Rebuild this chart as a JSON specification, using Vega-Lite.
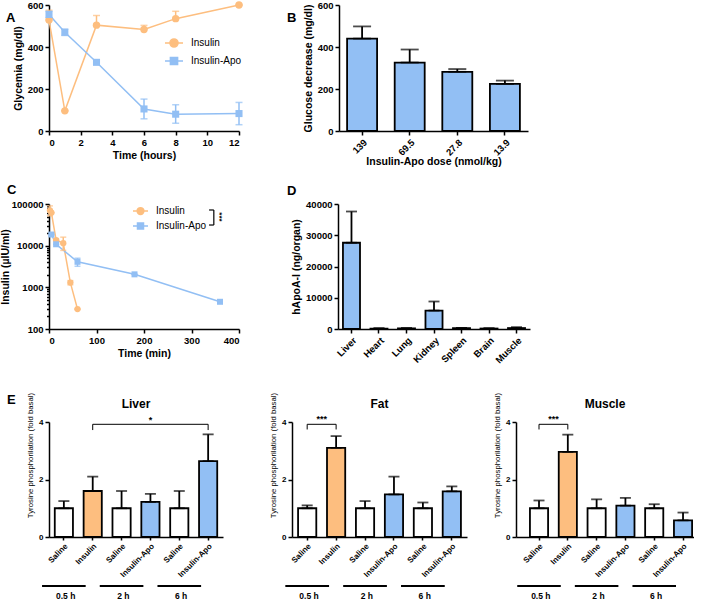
{
 "$schema": "https://vega.github.io/schema/vega-lite/v6.json",
 "padding": {"left": 0, "top": 0, "right": 0, "bottom": 0},
 "background": "white",
 "config": {
  "font": "Liberation Sans",
  "view": {"stroke": null},
  "axis": {"grid": false, "domainColor": "#000", "domainWidth": 1.5, "tickColor": "#000", "tickWidth": 1.5, "tickSize": 4, "labelColor": "#000", "labelFontWeight": "bold", "labelFontSize": 9.5, "labelPadding": 2, "titleColor": "#000", "titleFontWeight": "bold", "titleFontSize": 10.5, "titlePadding": 4},
  "legend": {"labelColor": "#000", "labelFontWeight": "normal", "labelFontSize": 10},
  "title": {"color": "#000", "fontWeight": "bold", "fontSize": 13}
 },
 "datasets": {
  "glyc": [
   {"series": "Insulin", "t": 0, "v": 528, "lo": 528, "hi": 575},
   {"series": "Insulin", "t": 1, "v": 96, "lo": 96, "hi": 96},
   {"series": "Insulin", "t": 3, "v": 504, "lo": 504, "hi": 550},
   {"series": "Insulin", "t": 6, "v": 483, "lo": 483, "hi": 503},
   {"series": "Insulin", "t": 8, "v": 535, "lo": 535, "hi": 570},
   {"series": "Insulin", "t": 12, "v": 600, "lo": 600, "hi": 600},
   {"series": "Insulin-Apo", "t": 0, "v": 555, "lo": 540, "hi": 570},
   {"series": "Insulin-Apo", "t": 1, "v": 470, "lo": 455, "hi": 485},
   {"series": "Insulin-Apo", "t": 3, "v": 327, "lo": 318, "hi": 336},
   {"series": "Insulin-Apo", "t": 6, "v": 105, "lo": 58, "hi": 152},
   {"series": "Insulin-Apo", "t": 8, "v": 80, "lo": 37, "hi": 125},
   {"series": "Insulin-Apo", "t": 12, "v": 83, "lo": 30, "hi": 136}
  ],
  "dose": [
   {"dose": "139", "v": 440, "hi": 498},
   {"dose": "69.5", "v": 326, "hi": 388},
   {"dose": "27.8", "v": 282, "hi": 295},
   {"dose": "13.9", "v": 224, "hi": 240}
  ],
  "ins": [
   {"series": "Insulin", "t": 2, "v": 70000, "lo": 52000, "hi": 90000},
   {"series": "Insulin", "t": 5, "v": 62000, "lo": 62000, "hi": 62000},
   {"series": "Insulin", "t": 15, "v": 13500, "lo": 13500, "hi": 14500},
   {"series": "Insulin", "t": 30, "v": 11500, "lo": 7700, "hi": 16000},
   {"series": "Insulin", "t": 45, "v": 1300, "lo": 1150, "hi": 1450},
   {"series": "Insulin", "t": 60, "v": 300, "lo": 300, "hi": 300},
   {"series": "Insulin-Apo", "t": 5, "v": 18500, "lo": 18500, "hi": 18500},
   {"series": "Insulin-Apo", "t": 15, "v": 10800, "lo": 10800, "hi": 10800},
   {"series": "Insulin-Apo", "t": 60, "v": 4100, "lo": 3200, "hi": 5000},
   {"series": "Insulin-Apo", "t": 180, "v": 2050, "lo": 2050, "hi": 2050},
   {"series": "Insulin-Apo", "t": 360, "v": 450, "lo": 450, "hi": 450}
  ],
  "insSig": [
   {"from": 337, "to": 347, "lo": 31300, "hi": 71800, "mid": 48700, "textAt": 357, "s": "***"}
  ],
  "organ": [
   {"organ": "Liver", "v": 27600, "hi": 37600},
   {"organ": "Heart", "v": 150, "hi": 250},
   {"organ": "Lung", "v": 200, "hi": 300},
   {"organ": "Kidney", "v": 5900, "hi": 8800},
   {"organ": "Spleen", "v": 250, "hi": 350},
   {"organ": "Brain", "v": 150, "hi": 250},
   {"organ": "Muscle", "v": 300, "hi": 600}
  ],
  "E": [
   {"tissue": "Liver", "cat": "0.5 h|Saline", "treat": "Saline", "v": 1.0, "hi": 1.25},
   {"tissue": "Liver", "cat": "0.5 h|Insulin", "treat": "Insulin", "v": 1.6, "hi": 2.1},
   {"tissue": "Liver", "cat": "2 h|Saline", "treat": "Saline", "v": 1.0, "hi": 1.6},
   {"tissue": "Liver", "cat": "2 h|Insulin-Apo", "treat": "Insulin-Apo", "v": 1.22, "hi": 1.5},
   {"tissue": "Liver", "cat": "6 h|Saline", "treat": "Saline", "v": 1.0, "hi": 1.6},
   {"tissue": "Liver", "cat": "6 h|Insulin-Apo", "treat": "Insulin-Apo", "v": 2.64, "hi": 3.57},
   {"tissue": "Fat", "cat": "0.5 h|Saline", "treat": "Saline", "v": 1.0, "hi": 1.1},
   {"tissue": "Fat", "cat": "0.5 h|Insulin", "treat": "Insulin", "v": 3.1, "hi": 3.51},
   {"tissue": "Fat", "cat": "2 h|Saline", "treat": "Saline", "v": 1.0, "hi": 1.25},
   {"tissue": "Fat", "cat": "2 h|Insulin-Apo", "treat": "Insulin-Apo", "v": 1.48, "hi": 2.1},
   {"tissue": "Fat", "cat": "6 h|Saline", "treat": "Saline", "v": 1.0, "hi": 1.2},
   {"tissue": "Fat", "cat": "6 h|Insulin-Apo", "treat": "Insulin-Apo", "v": 1.59, "hi": 1.76},
   {"tissue": "Muscle", "cat": "0.5 h|Saline", "treat": "Saline", "v": 1.0, "hi": 1.27},
   {"tissue": "Muscle", "cat": "0.5 h|Insulin", "treat": "Insulin", "v": 2.96, "hi": 3.56},
   {"tissue": "Muscle", "cat": "2 h|Saline", "treat": "Saline", "v": 1.0, "hi": 1.31},
   {"tissue": "Muscle", "cat": "2 h|Insulin-Apo", "treat": "Insulin-Apo", "v": 1.09, "hi": 1.36},
   {"tissue": "Muscle", "cat": "6 h|Saline", "treat": "Saline", "v": 1.0, "hi": 1.14},
   {"tissue": "Muscle", "cat": "6 h|Insulin-Apo", "treat": "Insulin-Apo", "v": 0.58, "hi": 0.85}
  ],
  "Egroups": [
   {"group": "0.5 h", "start": "0.5 h|Saline"},
   {"group": "2 h", "start": "2 h|Saline"},
   {"group": "6 h", "start": "6 h|Saline"}
  ]
 },
 "spacing": 27,
 "resolve": {"scale": {"color": "independent", "fill": "independent"}, "legend": {"color": "independent", "fill": "independent"}},
 "vconcat": [
  {"spacing": 16,
   "resolve": {"scale": {"color": "independent"}, "legend": {"color": "independent"}},
   "vconcat": [
   {"bounds": "flush", "spacing": 100, "hconcat": [
    {
     "width": 190, "height": 126,
     "title": {"text": "A", "anchor": "start", "frame": "group", "dx": -43, "offset": -19, "dy": 16, "baseline": "alphabetic"},
     "data": {"name": "glyc"},
     "encoding": {
      "x": {"field": "t", "type": "quantitative", "scale": {"domain": [0, 12], "nice": false}, "axis": {"values": [0, 2, 4, 6, 8, 10, 12], "title": "Time (hours)"}},
      "color": {"field": "series", "type": "nominal", "scale": {"domain": ["Insulin", "Insulin-Apo"], "range": ["#FDBE7F", "#92BFF4"]},
       "legend": {"title": null, "orient": "none", "legendX": 115, "legendY": 28, "symbolSize": 324, "labelOffset": 7, "rowPadding": -3,
        "encode": {"symbols": {"update": {
         "shape": {"signal": "datum.value === 'Insulin' ? 'M-1,0H1M0.45,0A0.45,0.45,0,1,1,-0.45,0A0.45,0.45,0,1,1,0.45,0Z' : 'M-1,0H1M-0.4,-0.4H0.4V0.4H-0.4Z'"},
         "fill": {"signal": "datum.value === 'Insulin' ? '#FDBE7F' : '#92BFF4'"},
         "stroke": {"signal": "datum.value === 'Insulin' ? '#FDBE7F' : '#92BFF4'"},
         "strokeWidth": {"value": 1.5}, "opacity": {"value": 1}}}}}}
     },
     "layer": [
      {"mark": {"type": "line", "strokeWidth": 1.5}, "encoding": {"y": {"field": "v", "type": "quantitative", "scale": {"domain": [0, 600]}, "axis": {"values": [0, 200, 400, 600], "title": "Glycemia (mg/dl)"}}}},
      {"mark": {"type": "errorbar", "thickness": 1.5, "ticks": {"size": 7}}, "encoding": {"y": {"field": "lo", "type": "quantitative", "axis": {"values": [0, 200, 400, 600], "title": "Glycemia (mg/dl)"}}, "y2": {"field": "hi"}}},
      {"transform": [{"filter": "datum.series === 'Insulin'"}], "mark": {"type": "point", "shape": "circle", "filled": true, "opacity": 1, "size": 55}, "encoding": {"y": {"field": "v", "type": "quantitative"}}},
      {"transform": [{"filter": "datum.series === 'Insulin-Apo'"}], "mark": {"type": "point", "shape": "square", "filled": true, "opacity": 1, "size": 50}, "encoding": {"y": {"field": "v", "type": "quantitative"}}}
     ]
    },
    {
     "width": 189, "height": 126,
     "title": {"text": "B", "anchor": "start", "frame": "group", "dx": -52, "offset": -21, "dy": 14, "baseline": "alphabetic"},
     "data": {"name": "dose"},
     "encoding": {"x": {"field": "dose", "type": "nominal", "sort": null, "scale": {"paddingInner": 0.37, "paddingOuter": 0.17}, "axis": {"labelAngle": -45, "titlePadding": 0, "title": "Insulin-Apo dose (nmol/kg)"}}},
     "layer": [
      {"mark": {"type": "bar", "fill": "#92BFF4", "stroke": "#000", "strokeWidth": 1.8}, "encoding": {"y": {"field": "v", "type": "quantitative", "scale": {"domain": [0, 600]}, "axis": {"values": [0, 200, 400, 600], "title": "Glucose decrease (mg/dl)"}}}},
      {"mark": {"type": "errorbar", "thickness": 1.8, "color": "#000", "ticks": {"size": 18}}, "encoding": {"y": {"field": "v", "type": "quantitative", "axis": {"values": [0, 200, 400, 600], "title": "Glucose decrease (mg/dl)"}}, "y2": {"field": "hi"}}}
     ]
    }
   ]},
   {"bounds": "flush", "spacing": 99, "hconcat": [
    {
     "width": 190, "height": 125,
     "title": {"text": "C", "anchor": "start", "frame": "group", "dx": -42, "offset": 5, "dy": 13, "baseline": "alphabetic"},
     "data": {"name": "ins"},
     "encoding": {
      "x": {"field": "t", "type": "quantitative", "scale": {"domain": [0, 400], "nice": false}, "axis": {"values": [0, 100, 200, 300, 400], "title": "Time (min)"}}
     },
     "layer": [
      {"mark": {"type": "line", "strokeWidth": 1.5}, "encoding": {
        "color": {"field": "series", "type": "nominal", "scale": {"domain": ["Insulin", "Insulin-Apo"], "range": ["#FDBE7F", "#92BFF4"]},
         "legend": {"title": null, "orient": "none", "legendX": 83, "legendY": -1.5, "symbolSize": 225, "labelOffset": 7, "rowPadding": 0,
          "encode": {"symbols": {"update": {
           "shape": {"signal": "datum.value === 'Insulin' ? 'M-1,0H1M0.45,0A0.45,0.45,0,1,1,-0.45,0A0.45,0.45,0,1,1,0.45,0Z' : 'M-1,0H1M-0.4,-0.4H0.4V0.4H-0.4Z'"},
           "fill": {"signal": "datum.value === 'Insulin' ? '#FDBE7F' : '#92BFF4'"},
           "stroke": {"signal": "datum.value === 'Insulin' ? '#FDBE7F' : '#92BFF4'"},
           "strokeWidth": {"value": 1.5}, "opacity": {"value": 1}}}}}},
        "y": {"field": "v", "type": "quantitative", "scale": {"type": "log", "domain": [100, 100000]},
        "axis": {"values": [100, 200, 300, 400, 500, 600, 700, 800, 900, 1000, 2000, 3000, 4000, 5000, 6000, 7000, 8000, 9000, 10000, 20000, 30000, 40000, 50000, 60000, 70000, 80000, 90000, 100000],
         "format": "d", "labelOverlap": false, "titlePadding": 1,
         "labelExpr": "indexof([100, 1000, 10000, 100000], datum.value) >= 0 ? datum.label : ''",
         "tickSize": {"condition": {"test": "indexof([100, 1000, 10000, 100000], datum.value) >= 0", "value": 4}, "value": 2.5},
         "title": "Insulin (µIU/ml)"}}}},
      {"mark": {"type": "errorbar", "thickness": 1.5, "ticks": {"size": 6}}, "encoding": {"color": {"field": "series", "type": "nominal"}, "y": {"field": "lo", "type": "quantitative", "axis": {"values": [100, 200, 300, 400, 500, 600, 700, 800, 900, 1000, 2000, 3000, 4000, 5000, 6000, 7000, 8000, 9000, 10000, 20000, 30000, 40000, 50000, 60000, 70000, 80000, 90000, 100000],
         "format": "d", "labelOverlap": false, "titlePadding": 1,
         "labelExpr": "indexof([100, 1000, 10000, 100000], datum.value) >= 0 ? datum.label : ''",
         "tickSize": {"condition": {"test": "indexof([100, 1000, 10000, 100000], datum.value) >= 0", "value": 4}, "value": 2.5},
         "title": "Insulin (µIU/ml)"}}, "y2": {"field": "hi"}}},
      {"transform": [{"filter": "datum.series === 'Insulin'"}], "mark": {"type": "point", "shape": "circle", "filled": true, "opacity": 1, "size": 40, "color": "#FDBE7F"}, "encoding": {"y": {"field": "v", "type": "quantitative"}}},
      {"transform": [{"filter": "datum.series === 'Insulin-Apo'"}], "mark": {"type": "point", "shape": "square", "filled": true, "opacity": 1, "size": 36, "color": "#92BFF4"}, "encoding": {"y": {"field": "v", "type": "quantitative"}}},
      {"data": {"name": "insSig"}, "mark": {"type": "rule", "color": "#000", "strokeWidth": 1.2}, "encoding": {"x": {"field": "to", "type": "quantitative"}, "y": {"field": "lo", "type": "quantitative"}, "y2": {"field": "hi"}}},
      {"data": {"name": "insSig"}, "mark": {"type": "rule", "color": "#000", "strokeWidth": 1.2}, "encoding": {"x": {"field": "from", "type": "quantitative"}, "x2": {"field": "to"}, "y": {"field": "hi", "type": "quantitative"}}},
      {"data": {"name": "insSig"}, "mark": {"type": "rule", "color": "#000", "strokeWidth": 1.2}, "encoding": {"x": {"field": "from", "type": "quantitative"}, "x2": {"field": "to"}, "y": {"field": "lo", "type": "quantitative"}}},
      {"data": {"name": "insSig"}, "mark": {"type": "text", "angle": 90, "fontSize": 8, "fontWeight": "bold", "baseline": "middle", "color": "#000"}, "encoding": {"x": {"field": "textAt", "type": "quantitative"}, "y": {"field": "mid", "type": "quantitative"}, "text": {"field": "s"}}}
     ]
    },
    {
     "width": 192, "height": 125,
     "title": {"text": "D", "anchor": "start", "frame": "group", "dx": -51, "offset": 3, "dy": 12, "baseline": "alphabetic"},
     "data": {"name": "organ"},
     "encoding": {"x": {"field": "organ", "type": "nominal", "sort": null, "scale": {"paddingInner": 0.38, "paddingOuter": 0.18}, "axis": {"labelAngle": -45, "title": null}}},
     "layer": [
      {"mark": {"type": "bar", "fill": "#92BFF4", "stroke": "#000", "strokeWidth": 1.8}, "encoding": {"y": {"field": "v", "type": "quantitative", "scale": {"domain": [0, 40000]}, "axis": {"values": [0, 10000, 20000, 30000, 40000], "format": "d", "title": "hApoA-I (ng/organ)"}}}},
      {"mark": {"type": "errorbar", "thickness": 1.8, "color": "#000", "ticks": {"size": 11}}, "encoding": {"y": {"field": "v", "type": "quantitative", "axis": {"values": [0, 10000, 20000, 30000, 40000], "format": "d", "title": "hApoA-I (ng/organ)"}}, "y2": {"field": "hi"}}}
     ]
    }
   ]}
  ]},
  {"spacing": 46,
   "resolve": {"scale": {"fill": "independent"}, "legend": {"fill": "independent"}},
   "title": {"text": "E", "anchor": "start", "frame": "group", "dx": -42, "offset": 0, "dy": 25, "baseline": "alphabetic"},
   "hconcat": [
    {"bounds": "flush", "spacing": 49, "vconcat": [
     {
      "width": 174, "height": 115,
      "title": {"text": "Liver", "anchor": "middle", "fontSize": 12, "dy": 23},
      "data": {"name": "E"},
      "transform": [{"filter": "datum.tissue === 'Liver'"}],
      "encoding": {"x": {"field": "cat", "type": "nominal", "scale": {"domain": ["0.5 h|Saline", "0.5 h|Insulin", "2 h|Saline", "2 h|Insulin-Apo", "6 h|Saline", "6 h|Insulin-Apo"], "paddingInner": 0.37, "paddingOuter": 0.2}, "axis": {"title": null, "labelAngle": -45, "labelExpr": "split(datum.label, '|')[1]", "labelFontSize": 8, "tickSize": 3}}},
      "layer": [
       {"mark": {"type": "bar", "stroke": "#000", "strokeWidth": 1.8}, "encoding": {"y": {"field": "v", "type": "quantitative", "scale": {"domain": [0, 4]}, "axis": {"values": [0, 1, 2, 3, 4], "labelOverlap": false, "title": "Tyrosine phosphorilation (fold basal)", "titleFontWeight": "normal", "titleFontSize": 7.8, "labelFontSize": 8, "titleY": 33}},
         "fill": {"field": "treat", "type": "nominal", "scale": {"domain": ["Saline", "Insulin", "Insulin-Apo"], "range": ["#FFFFFF", "#FDBE7F", "#92BFF4"]}, "legend": null}}},
       {"mark": {"type": "errorbar", "thickness": 1.8, "color": "#000", "ticks": {"size": 11}}, "encoding": {"y": {"field": "v", "type": "quantitative", "axis": {"values": [0, 1, 2, 3, 4], "labelOverlap": false, "title": "Tyrosine phosphorilation (fold basal)", "titleFontWeight": "normal", "titleFontSize": 7.8, "labelFontSize": 8, "titleY": 33}}, "y2": {"field": "hi"}}},
       {"data": {"values": [{"a": "0.5 h|Insulin", "b": "6 h|Insulin-Apo", "m": "2 h|Insulin-Apo", "s": "*"}]}, "layer": [
        {"mark": {"type": "rule", "color": "#000", "strokeWidth": 1}, "encoding": {"x": {"field": "a", "type": "nominal"}, "x2": {"field": "b"}, "y": {"datum": 3.92}}},
        {"mark": {"type": "rule", "color": "#000", "strokeWidth": 1}, "encoding": {"x": {"field": "a", "type": "nominal"}, "y": {"datum": 3.72}, "y2": {"datum": 3.92}}},
        {"mark": {"type": "rule", "color": "#000", "strokeWidth": 1}, "encoding": {"x": {"field": "b", "type": "nominal"}, "y": {"datum": 3.72}, "y2": {"datum": 3.92}}},
        {"mark": {"type": "text", "fontSize": 9, "fontWeight": "bold", "baseline": "middle", "color": "#000"}, "encoding": {"x": {"field": "m", "type": "nominal"}, "y": {"datum": 4.08}, "text": {"field": "s"}}}
       ]}
      ]
     },
     {
      "width": 174, "height": 10,
      "data": {"name": "Egroups"},
      "layer": [
       {"mark": {"type": "rule", "color": "#000", "strokeWidth": 1.8}, "encoding": {"x": {"field": "start", "type": "nominal", "bandPosition": -0.7, "scale": {"domain": ["0.5 h|Saline", "0.5 h|Insulin", "2 h|Saline", "2 h|Insulin-Apo", "6 h|Saline", "6 h|Insulin-Apo"], "paddingInner": 0.37, "paddingOuter": 0.2}, "axis": null}, "x2": {"field": "start", "bandPosition": 1.7}, "y": {"datum": 1, "type": "quantitative", "scale": {"domain": [0, 1]}, "axis": null}}},
       {"mark": {"type": "text", "fontSize": 8.5, "fontWeight": "bold", "baseline": "middle", "color": "#000"}, "encoding": {"x": {"field": "start", "type": "nominal", "bandPosition": 0.6}, "y": {"datum": 0, "type": "quantitative"}, "text": {"field": "group"}}}
      ]
     }
    ]},
    {"spacing": 26, "resolve": {"scale": {"fill": "independent"}, "legend": {"fill": "independent"}}, "hconcat": [
     {"bounds": "flush", "spacing": 49, "vconcat": [
      {
       "width": 175, "height": 115,
       "title": {"text": "Fat", "anchor": "middle", "fontSize": 12, "dy": 23},
       "data": {"name": "E"},
       "transform": [{"filter": "datum.tissue === 'Fat'"}],
       "encoding": {"x": {"field": "cat", "type": "nominal", "scale": {"domain": ["0.5 h|Saline", "0.5 h|Insulin", "2 h|Saline", "2 h|Insulin-Apo", "6 h|Saline", "6 h|Insulin-Apo"], "paddingInner": 0.37, "paddingOuter": 0.21}, "axis": {"title": null, "labelAngle": -45, "labelExpr": "split(datum.label, '|')[1]", "labelFontSize": 8, "tickSize": 3}}},
       "layer": [
        {"mark": {"type": "bar", "stroke": "#000", "strokeWidth": 1.8}, "encoding": {"y": {"field": "v", "type": "quantitative", "scale": {"domain": [0, 4]}, "axis": {"values": [0, 1, 2, 3, 4], "labelOverlap": false, "title": "Tyrosine phosphorilation (fold basal)", "titleFontWeight": "normal", "titleFontSize": 7.8, "labelFontSize": 8, "titleY": 33}},
          "fill": {"field": "treat", "type": "nominal", "scale": {"domain": ["Saline", "Insulin", "Insulin-Apo"], "range": ["#FFFFFF", "#FDBE7F", "#92BFF4"]}, "legend": null}}},
        {"mark": {"type": "errorbar", "thickness": 1.8, "color": "#000", "ticks": {"size": 11}}, "encoding": {"y": {"field": "v", "type": "quantitative", "axis": {"values": [0, 1, 2, 3, 4], "labelOverlap": false, "title": "Tyrosine phosphorilation (fold basal)", "titleFontWeight": "normal", "titleFontSize": 7.8, "labelFontSize": 8, "titleY": 33}}, "y2": {"field": "hi"}}},
        {"data": {"values": [{"a": "0.5 h|Saline", "b": "0.5 h|Insulin", "s": "***"}]}, "layer": [
         {"mark": {"type": "rule", "color": "#000", "strokeWidth": 1}, "encoding": {"x": {"field": "a", "type": "nominal"}, "x2": {"field": "b"}, "y": {"datum": 3.92}}},
         {"mark": {"type": "rule", "color": "#000", "strokeWidth": 1}, "encoding": {"x": {"field": "a", "type": "nominal"}, "y": {"datum": 3.74}, "y2": {"datum": 3.92}}},
         {"mark": {"type": "rule", "color": "#000", "strokeWidth": 1}, "encoding": {"x": {"field": "b", "type": "nominal"}, "y": {"datum": 3.74}, "y2": {"datum": 3.92}}},
         {"mark": {"type": "text", "fontSize": 9, "fontWeight": "bold", "baseline": "middle", "color": "#000"}, "encoding": {"x": {"field": "a", "type": "nominal", "bandPosition": 1.3}, "y": {"datum": 4.1}, "text": {"field": "s"}}}
        ]}
       ]
      },
      {
       "width": 175, "height": 10,
       "data": {"name": "Egroups"},
       "layer": [
        {"mark": {"type": "rule", "color": "#000", "strokeWidth": 1.8}, "encoding": {"x": {"field": "start", "type": "nominal", "bandPosition": -0.7, "scale": {"domain": ["0.5 h|Saline", "0.5 h|Insulin", "2 h|Saline", "2 h|Insulin-Apo", "6 h|Saline", "6 h|Insulin-Apo"], "paddingInner": 0.37, "paddingOuter": 0.21}, "axis": null}, "x2": {"field": "start", "bandPosition": 1.7}, "y": {"datum": 1, "type": "quantitative", "scale": {"domain": [0, 1]}, "axis": null}}},
        {"mark": {"type": "text", "fontSize": 8.5, "fontWeight": "bold", "baseline": "middle", "color": "#000"}, "encoding": {"x": {"field": "start", "type": "nominal", "bandPosition": 0.6}, "y": {"datum": 0, "type": "quantitative"}, "text": {"field": "group"}}}
       ]
      }
     ]},
     {"bounds": "flush", "spacing": 49, "vconcat": [
      {
       "width": 178, "height": 115,
       "title": {"text": "Muscle", "anchor": "middle", "fontSize": 12, "dy": 23},
       "data": {"name": "E"},
       "transform": [{"filter": "datum.tissue === 'Muscle'"}],
       "encoding": {"x": {"field": "cat", "type": "nominal", "scale": {"domain": ["0.5 h|Saline", "0.5 h|Insulin", "2 h|Saline", "2 h|Insulin-Apo", "6 h|Saline", "6 h|Insulin-Apo"], "paddingInner": 0.37, "paddingOuter": 0.275, "align": 0.88}, "axis": {"title": null, "labelAngle": -45, "labelExpr": "split(datum.label, '|')[1]", "labelFontSize": 8, "tickSize": 3}}},
       "layer": [
        {"mark": {"type": "bar", "stroke": "#000", "strokeWidth": 1.8}, "encoding": {"y": {"field": "v", "type": "quantitative", "scale": {"domain": [0, 4]}, "axis": {"values": [0, 1, 2, 3, 4], "labelOverlap": false, "title": "Tyrosine phosphorilation (fold basal)", "titleFontWeight": "normal", "titleFontSize": 7.8, "labelFontSize": 8, "titleY": 33}},
          "fill": {"field": "treat", "type": "nominal", "scale": {"domain": ["Saline", "Insulin", "Insulin-Apo"], "range": ["#FFFFFF", "#FDBE7F", "#92BFF4"]}, "legend": null}}},
        {"mark": {"type": "errorbar", "thickness": 1.8, "color": "#000", "ticks": {"size": 11}}, "encoding": {"y": {"field": "v", "type": "quantitative", "axis": {"values": [0, 1, 2, 3, 4], "labelOverlap": false, "title": "Tyrosine phosphorilation (fold basal)", "titleFontWeight": "normal", "titleFontSize": 7.8, "labelFontSize": 8, "titleY": 33}}, "y2": {"field": "hi"}}},
        {"data": {"values": [{"a": "0.5 h|Saline", "b": "0.5 h|Insulin", "s": "***"}]}, "layer": [
         {"mark": {"type": "rule", "color": "#000", "strokeWidth": 1}, "encoding": {"x": {"field": "a", "type": "nominal"}, "x2": {"field": "b"}, "y": {"datum": 3.92}}},
         {"mark": {"type": "rule", "color": "#000", "strokeWidth": 1}, "encoding": {"x": {"field": "a", "type": "nominal"}, "y": {"datum": 3.74}, "y2": {"datum": 3.92}}},
         {"mark": {"type": "rule", "color": "#000", "strokeWidth": 1}, "encoding": {"x": {"field": "b", "type": "nominal"}, "y": {"datum": 3.74}, "y2": {"datum": 3.92}}},
         {"mark": {"type": "text", "fontSize": 9, "fontWeight": "bold", "baseline": "middle", "color": "#000"}, "encoding": {"x": {"field": "a", "type": "nominal", "bandPosition": 1.3}, "y": {"datum": 4.1}, "text": {"field": "s"}}}
        ]}
       ]
      },
      {
       "width": 178, "height": 10,
       "data": {"name": "Egroups"},
       "layer": [
        {"mark": {"type": "rule", "color": "#000", "strokeWidth": 1.8}, "encoding": {"x": {"field": "start", "type": "nominal", "bandPosition": -0.7, "scale": {"domain": ["0.5 h|Saline", "0.5 h|Insulin", "2 h|Saline", "2 h|Insulin-Apo", "6 h|Saline", "6 h|Insulin-Apo"], "paddingInner": 0.37, "paddingOuter": 0.275, "align": 0.88}, "axis": null}, "x2": {"field": "start", "bandPosition": 1.7}, "y": {"datum": 1, "type": "quantitative", "scale": {"domain": [0, 1]}, "axis": null}}},
        {"mark": {"type": "text", "fontSize": 8.5, "fontWeight": "bold", "baseline": "middle", "color": "#000"}, "encoding": {"x": {"field": "start", "type": "nominal", "bandPosition": 0.6}, "y": {"datum": 0, "type": "quantitative"}, "text": {"field": "group"}}}
       ]
      }
     ]}
    ]}
   ]}
 ]
}
